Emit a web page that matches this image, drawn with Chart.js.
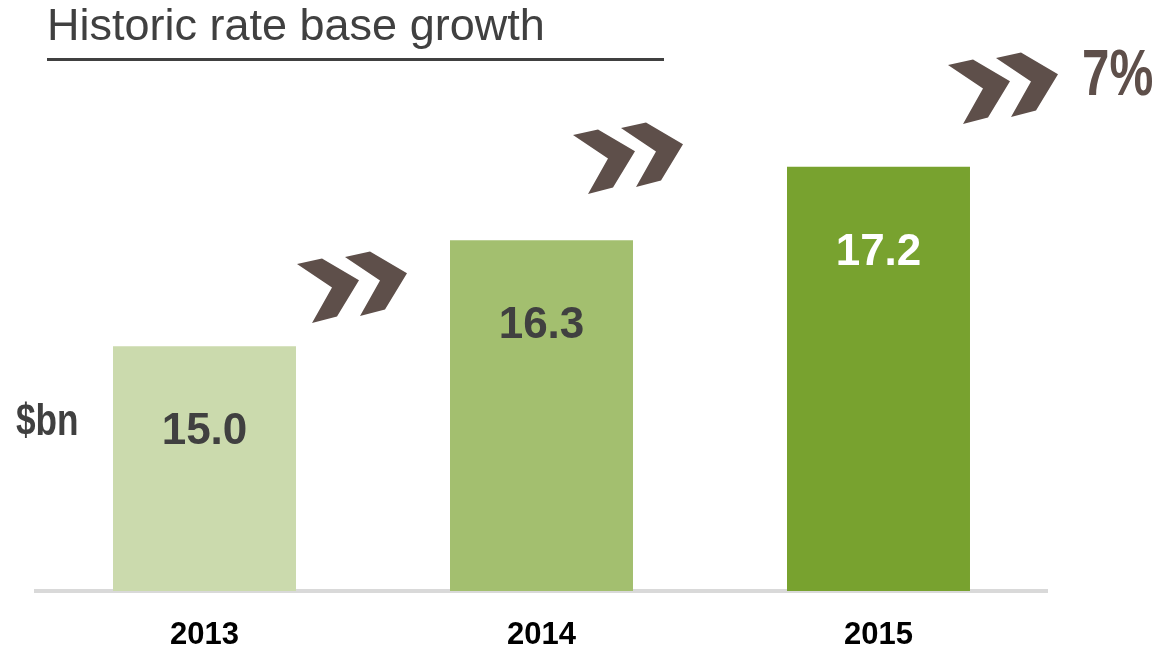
<!DOCTYPE html>
<html>
<head>
<meta charset="utf-8">
<script src="https://cdn.jsdelivr.net/npm/chart.js@4"></script>
<style>
  html, body { margin: 0; padding: 0; background: #fff; }
  #wrap { width: 1157px; height: 652px; position: relative; }
</style>
</head>
<body>
<div id="wrap"><canvas id="rate-chart"></canvas></div>
<script>
const years = ["2013", "2014", "2015"];
const rateBase = [15.0, 16.3, 17.2];
const barColors = ["#cbdaad", "#a3bf6f", "#78a22f"];
const labelColors = ["#404040", "#404040", "#ffffff"];
const titleText = "Historic rate base growth";
const unitText = "$bn";
const growthText = "7%";

const FONT = "'Liberation Sans', Arial, sans-serif";
const chevronColor = "#5e4f4a";

// one chevron, relative to its top-left corner
const chevronShape = [[0, 0], [25, -5.5], [62, 16.3], [40, 52.5], [15, 59], [35, 23.5]];
const chevronGroups = [[297, 264], [573, 135], [948, 65]];

function drawChevron(ctx, x, y){
    ctx.beginPath();
    chevronShape.forEach(function(p, i){
        if(i === 0) ctx.moveTo(x + p[0], y + p[1]);
        else ctx.lineTo(x + p[0], y + p[1]);
    });
    ctx.closePath();
    ctx.fill();
}

function narrowText(ctx, text, x, y, font, squeeze){
    ctx.save();
    ctx.font = font;
    ctx.translate(x, y);
    ctx.scale(squeeze, 1);
    ctx.fillText(text, 0, 0);
    ctx.restore();
}

const extras = {
    id: "extras",
    afterDatasetsDraw(chart){
        const ctx = chart.ctx;
        const meta = chart.getDatasetMeta(0);
        const yScale = chart.scales.y;

        // values inside the bars
        ctx.save();
        ctx.font = "bold 44px " + FONT;
        ctx.textAlign = "center";
        ctx.textBaseline = "alphabetic";
        meta.data.forEach(function(bar, i){
            ctx.fillStyle = labelColors[i];
            ctx.fillText(rateBase[i].toFixed(1), bar.x, yScale.getPixelForValue(rateBase[i] - 1.2));
        });
        ctx.restore();
    },
    afterDraw(chart){
        const ctx = chart.ctx;
        ctx.save();

        // title + underline
        ctx.fillStyle = "#404040";
        ctx.font = "45px " + FONT;
        ctx.textBaseline = "alphabetic";
        ctx.textAlign = "left";
        ctx.fillText(titleText, 47, 40);
        ctx.fillRect(47, 58, 617, 3);

        // unit label
        ctx.fillStyle = "#404040";
        narrowText(ctx, unitText, 16, 435, "bold 44px " + FONT, 0.8);

        // chevrons
        ctx.fillStyle = chevronColor;
        chevronGroups.forEach(function(g){
            drawChevron(ctx, g[0], g[1]);
            drawChevron(ctx, g[0] + 48, g[1] - 7);
        });

        // growth figure
        narrowText(ctx, growthText, 1082, 95, "bold 64px " + FONT, 0.77);

        ctx.restore();
    }
};

const canvas = document.getElementById("rate-chart");

new Chart(canvas, {
    type: "bar",
    data: {
        labels: years,
        datasets: [{
            data: rateBase,
            backgroundColor: barColors,
            borderWidth: 0,
            barPercentage: 0.543,
            categoryPercentage: 1
        }]
    },
    options: {
        responsive: true,
        maintainAspectRatio: false,
        animation: false,
        layout: { padding: { left: 36, right: 110, top: 20, bottom: 0 } },
        plugins: {
            legend: { display: false },
            tooltip: { enabled: false }
        },
        scales: {
            x: {
                grid: { display: false },
                border: { display: true, color: "#d9d9d9", width: 4 },
                ticks: {
                    color: "#000000",
                    padding: 18,
                    font: { family: FONT, size: 31, weight: "bold" }
                },
                afterFit(scale){
                    scale.height = 61;
                }
            },
            y: {
                display: false,
                min: 12,
                max: 19
            }
        }
    },
    plugins: [extras]
});
</script>
</body>
</html>
